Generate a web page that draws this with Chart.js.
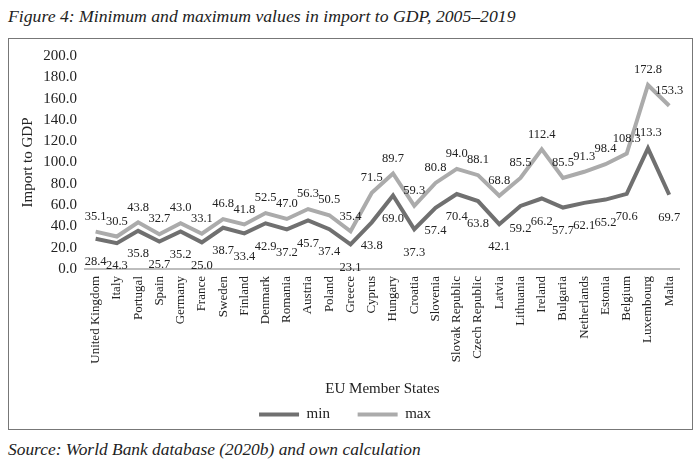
<!DOCTYPE html>
<html>
<head>
<meta charset="utf-8">
<script src="https://cdn.jsdelivr.net/npm/chart.js@4"></script>
<style>
  body { margin: 0; background: #fff; width: 700px; height: 471px; position: relative; overflow: hidden; }
  .caption { position: absolute; left: 8px; font-family: "Liberation Serif", serif; font-style: italic; color: #222; white-space: nowrap; }
  #title { top: 6px; font-size: 17.7px; }
  #source { top: 439px; font-size: 17.4px; }
  #frame { position: absolute; left: 8px; top: 38px; width: 683px; height: 390px; border: 1px solid #777; overflow: hidden; }
</style>
</head>
<body>
<div id="title" class="caption">Figure 4: Minimum and maximum values in import to GDP, 2005–2019</div>
<div id="frame"><canvas id="chart" width="683" height="390"></canvas></div>
<div id="source" class="caption">Source: World Bank database (2020b) and own calculation</div>
<script>
// Data
const countries = ['United Kingdom', 'Italy', 'Portugal', 'Spain', 'Germany', 'France', 'Sweden', 'Finland',
    'Denmark', 'Romania', 'Austria', 'Poland', 'Greece', 'Cyprus', 'Hungary', 'Croatia', 'Slovenia',
    'Slovak Republic', 'Czech Republic', 'Latvia', 'Lithuania', 'Ireland', 'Bulgaria', 'Netherlands',
    'Estonia', 'Belgium', 'Luxembourg', 'Malta'];
const minValues = [28.4, 24.3, 35.8, 25.7, 35.2, 25.0, 38.7, 33.4, 42.9, 37.2, 45.7, 37.4, 23.1, 43.8,
    69.0, 37.3, 57.4, 70.4, 63.8, 42.1, 59.2, 66.2, 57.7, 62.1, 65.2, 70.6, 113.3, 69.7];
const maxValues = [35.1, 30.5, 43.8, 32.7, 43.0, 33.1, 46.8, 41.8, 52.5, 47.0, 56.3, 50.5, 35.4, 71.5,
    89.7, 59.3, 80.8, 94.0, 88.1, 68.8, 85.5, 112.4, 85.5, 91.3, 98.4, 108.3, 172.8, 153.3];
const yTicks = [0, 20, 40, 60, 80, 100, 120, 140, 160, 180, 200];

// min labels that sit above the line instead of below
const minLabelAbove = ['Luxembourg'];

const serif = '"Liberation Serif", "DejaVu Serif", serif';

// draws the value next to every point
const valueLabels = {
    id: 'valueLabels',
    afterDatasetsDraw(chart) {
        const ctx = chart.ctx;
        ctx.save();
        ctx.font = '12.5px ' + serif;
        ctx.fillStyle = '#222';
        ctx.textAlign = 'center';
        ctx.textBaseline = 'middle';
        chart.data.datasets.forEach((ds, i) => {
            const meta = chart.getDatasetMeta(i);
            meta.data.forEach((pt, j) => {
                let dy = i === 1 ? -15 : 23;
                if (i === 0 && minLabelAbove.includes(countries[j])) dy = -16;
                ctx.fillText(ds.data[j].toFixed(1), pt.x, pt.y + dy);
            });
        });
        ctx.restore();
    }
};

new Chart(document.getElementById('chart'), {
    type: 'line',
    data: {
        labels: countries,
        datasets: [
            { label: 'min', data: minValues, borderColor: '#707070', backgroundColor: '#707070',
              borderWidth: 4, pointRadius: 0, tension: 0 },
            { label: 'max', data: maxValues, borderColor: '#ababab', backgroundColor: '#ababab',
              borderWidth: 4, pointRadius: 0, tension: 0 }
        ]
    },
    options: {
        responsive: false,
        animation: false,
        layout: { padding: { top: 17, right: 11, left: 0, bottom: -3 } },
        plugins: {
            legend: {
                position: 'bottom',
                labels: {
                    font: { family: serif, size: 15 },
                    color: '#222',
                    boxWidth: 40,
                    boxHeight: 4,
                    padding: 9,
                    generateLabels(chart) {
                        const items = Chart.defaults.plugins.legend.labels.generateLabels(chart);
                        items.forEach(it => { it.lineWidth = 0; it.fillStyle = it.strokeStyle; });
                        // widen the gap after the first entry
                        items[0].text += '     ';
                        return items;
                    }
                }
            },
            tooltip: { enabled: false }
        },
        scales: {
            x: {
                offset: true,
                grid: { display: false, drawTicks: false },
                border: { display: true, color: '#bdbdbd', width: 2 },
                ticks: {
                    autoSkip: false, maxRotation: 90, minRotation: 90, padding: 7,
                    color: '#222', font: { family: serif, size: 13 }
                },
                title: {
                    display: true, text: 'EU Member States', color: '#222',
                    font: { family: serif, size: 15 }, padding: { top: 4, bottom: 0 }
                },
                afterFit(scale) { scale.height = 129; }
            },
            y: {
                min: 0, max: 200,
                afterBuildTicks(scale) { scale.ticks = yTicks.map(v => ({ value: v })); },
                grid: { display: false, drawTicks: false },
                border: { display: false },
                ticks: {
                    autoSkip: false, padding: 8, color: '#222', font: { family: serif, size: 15 },
                    callback: v => v.toFixed(1)
                },
                title: {
                    display: true, text: 'Import to GDP', color: '#222',
                    font: { family: serif, size: 15 }, padding: { top: 10, bottom: 4 }
                },
                afterFit(scale) { scale.width = 76; }
            }
        }
    },
    plugins: [valueLabels]
});
</script>
</body>
</html>
